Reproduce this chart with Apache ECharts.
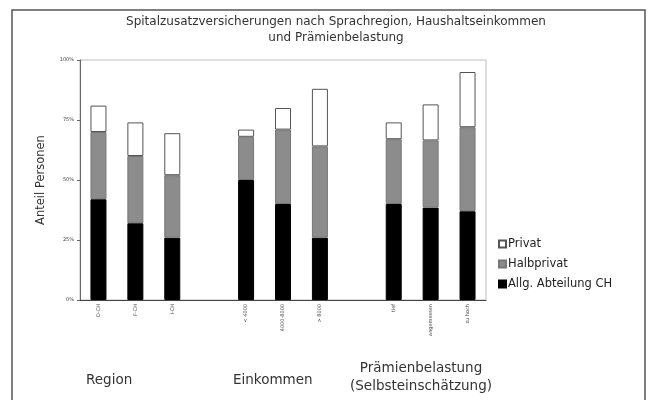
<!DOCTYPE html>
<html>
<head>
<meta charset="utf-8">
<script src="https://cdn.jsdelivr.net/npm/echarts@6/dist/echarts.min.js"></script>
<style>
  html, body { margin: 0; padding: 0; background: #fff; }
  #chart { width: 656px; height: 400px; }
</style>
</head>
<body>
<div id="chart"></div>
<script>
// Categories; empty strings are spacer slots between the three groups
const categories = ['D-CH', 'F-CH', 'I-CH', '', '< 4000', '4000-8000', '> 8000', '', 'tief', 'angemessen', 'zu hoch'];

// Shares of persons (%) per insurance class, stacked
const allgAbteilung = [42, 32, 26, '-', 50, 40, 26, '-', 40, 38.5, 37];
const halbprivat    = [28, 28, 26, '-', 18, 31, 38, '-', 27, 28, 35];
const privat        = [11, 14, 17.5, '-', 3, 9, 24, '-', 7, 15, 23];

const yTicks = [0, 25, 50, 75, 100];
const groupLabels = ['Region', 'Einkommen', 'Prämienbelastung\n(Selbsteinschätzung)'];

const FONT = '"DejaVu Sans", Verdana, sans-serif';

const chart = echarts.init(document.getElementById('chart'), null, { renderer: 'canvas' });

const barCommon = {
  type: 'bar',
  stack: 'total',
  barWidth: 16,
  emphasis: { disabled: true }
};

chart.setOption({
  animation: false,
  textStyle: { fontFamily: FONT },
  title: {
    text: 'Spitalzusatzversicherungen nach Sprachregion, Haushaltseinkommen\nund Prämienbelastung',
    left: 331,
    textAlign: 'center',
    top: 9,
    textStyle: { fontSize: 12, fontWeight: 'normal', color: '#333', lineHeight: 16, fontFamily: FONT }
  },
  grid: {
    left: 80, right: 170, top: 60, bottom: 100,
    show: true, borderColor: '#bbb', borderWidth: 1, backgroundColor: '#fff'
  },
  legend: {
    orient: 'vertical',
    left: 493,
    top: 233,
    itemWidth: 7,
    itemHeight: 7,
    itemGap: 8,
    data: ['Privat', 'Halbprivat', 'Allg. Abteilung CH'],
    textStyle: { fontSize: 11.5, color: '#222', padding: [0, 0, 0, -3], fontFamily: FONT },
    icon: 'rect'
  },
  xAxis: {
    type: 'category',
    data: categories,
    axisLine: { lineStyle: { color: '#444', width: 1 } },
    axisTick: { show: false },
    axisLabel: { rotate: 90, fontSize: 5, color: '#444', interval: 0, margin: 4 }
  },
  yAxis: {
    type: 'value',
    min: yTicks[0],
    max: yTicks[yTicks.length - 1],
    interval: 25,
    name: 'Anteil Personen',
    nameLocation: 'middle',
    nameGap: 33,
    nameRotate: 90,
    nameTextStyle: { fontSize: 11.5, color: '#333', fontFamily: FONT },
    axisLine: { show: true, lineStyle: { color: '#666' } },
    axisTick: { show: true, length: 3, lineStyle: { color: '#666' } },
    axisLabel: { fontSize: 5, color: '#444', formatter: '{value}%', margin: 6 },
    splitLine: { show: false }
  },
  series: [
    Object.assign({}, barCommon, {
      name: 'Allg. Abteilung CH', data: allgAbteilung,
      itemStyle: { color: '#000', borderColor: '#000', borderWidth: 1 }
    }),
    Object.assign({}, barCommon, {
      name: 'Halbprivat', data: halbprivat,
      itemStyle: { color: '#8c8c8c', borderColor: '#777', borderWidth: 1 }
    }),
    Object.assign({}, barCommon, {
      name: 'Privat', data: privat,
      itemStyle: { color: '#fff', borderColor: '#555', borderWidth: 1 }
    })
  ],
  graphic: [
    {
      type: 'rect', silent: true, z: -1,
      shape: { x: 12, y: 10, width: 633, height: 400 },
      style: { fill: 'none', stroke: '#555', lineWidth: 1.5 }
    },
    {
      type: 'text', x: 86, y: 373,
      style: { text: groupLabels[0], fill: '#333', font: '13.5px ' + FONT }
    },
    {
      type: 'text', x: 233, y: 373,
      style: { text: groupLabels[1], fill: '#333', font: '13.5px ' + FONT }
    },
    {
      type: 'text', x: 421, y: 359,
      style: { text: groupLabels[2], fill: '#333', align: 'center', textAlign: 'center', lineHeight: 18,
               font: '13.5px ' + FONT }
    }
  ]
});
</script>
</body>
</html>
